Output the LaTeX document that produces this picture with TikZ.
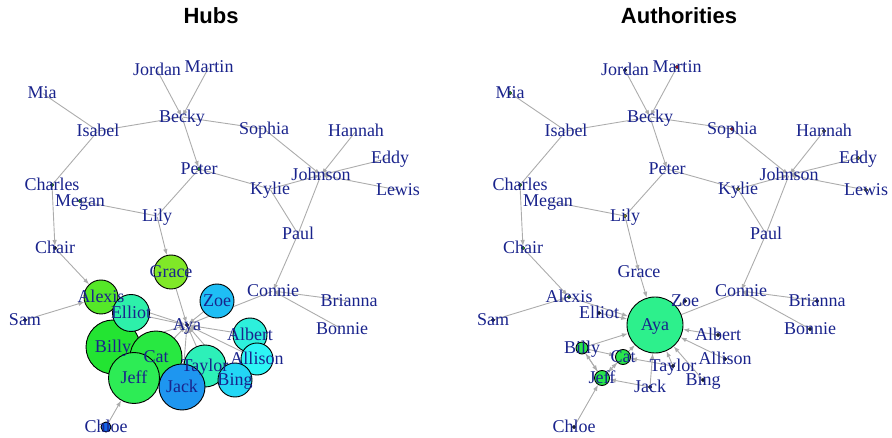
\documentclass[tikz,border=0pt]{standalone}
\usepackage{fontspec}
\setmainfont{Liberation Serif}
\newfontfamily\titlefont{Liberation Sans}
\usetikzlibrary{arrows.meta}
\pgfdeclarelayer{edgelayer}
\pgfdeclarelayer{labellayer}
\pgfsetlayers{edgelayer,main,labellayer}
\definecolor{lblblue}{RGB}{25,35,140}
\definecolor{edgegray}{RGB}{172,172,172}
\definecolor{cGrace}{RGB}{128,232,40}
\definecolor{cAlexis}{RGB}{85,232,40}
\definecolor{cZoe}{RGB}{30,190,245}
\definecolor{cElliot}{RGB}{45,240,170}
\definecolor{cBilly}{RGB}{35,228,50}
\definecolor{cCat}{RGB}{40,232,65}
\definecolor{cJeff}{RGB}{45,236,85}
\definecolor{cJack}{RGB}{30,150,240}
\definecolor{cTaylor}{RGB}{45,240,185}
\definecolor{cAlbert}{RGB}{45,240,220}
\definecolor{cAllison}{RGB}{45,245,245}
\definecolor{cBing}{RGB}{35,215,245}
\definecolor{cChloe}{RGB}{20,100,230}
\definecolor{cAya}{RGB}{45,240,140}
\definecolor{cAuth}{RGB}{40,230,75}
\definecolor{dGreen}{RGB}{30,170,40}
\definecolor{dDark}{RGB}{20,30,60}
\definecolor{dRed}{RGB}{200,20,40}
\definecolor{dOlive}{RGB}{170,170,30}
\tikzset{
  vnone/.style={circle,inner sep=0pt,minimum size=1.5pt,draw=none},
  vdot/.style={circle,inner sep=0pt,minimum size=3.5pt,draw=black!85,line width=0.5pt,fill=#1},
  vbig/.style 2 args={circle,inner sep=0pt,minimum size=#1,draw=black,line width=0.9pt,fill=#2},
  lbl/.style={text=lblblue,font=\fontsize{18}{18}\selectfont,inner sep=0pt,text height=12pt,text depth=3.5pt,yshift=-1.5pt},
  edge/.style={draw=edgegray,line width=0.9pt},
  arr/.style={edge,-{Latex[length=6pt,width=4.5pt]}},
  ttl/.style={font=\titlefont\bfseries\fontsize{22}{22}\selectfont,inner sep=0pt}
}
\newcommand\gv[5]{%
  \node[#4] (#1) at (#2,#3) {};
  \begin{pgfonlayer}{labellayer}\node[lbl] (#1-t) at (#2,#3) {#5};\end{pgfonlayer}}
\newcommand\paneledges[1]{%
  \begin{pgfonlayer}{edgelayer}
  \draw[edge] (#1Mia) -- (#1Isabel);
  \draw[edge] (#1Isabel) -- (#1Becky);
  \draw[edge] (#1Isabel) -- (#1Charles);
  \draw[edge] (#1Becky) -- (#1Sophia);
  \draw[edge] (#1Peter) -- (#1Lily);
  \draw[edge] (#1Peter) -- (#1Kylie);
  \draw[edge] (#1Megan) -- (#1Lily);
  \draw[edge] (#1Kylie) -- (#1Paul);
  \draw[edge] (#1Johnson) -- (#1Paul);
  \draw[edge] (#1Connie) -- (#1Aya);
  \draw[arr] (#1Jordan) -- (#1Becky);
  \draw[arr] (#1Martin) -- (#1Becky);
  \draw[arr] (#1Becky) -- (#1Peter);
  \draw[arr] (#1Sophia) -- (#1Johnson);
  \draw[arr] (#1Hannah) -- (#1Johnson);
  \draw[arr] (#1Eddy) -- (#1Johnson);
  \draw[arr] (#1Lewis) -- (#1Johnson);
  \draw[arr] (#1Kylie) -- (#1Johnson);
  \draw[arr] (#1Charles) -- (#1Chair);
  \draw[arr] (#1Chair) -- (#1Alexis);
  \draw[arr] (#1Sam) -- (#1Alexis);
  \draw[arr] (#1Lily) -- (#1Grace);
  \draw[arr] (#1Paul) -- (#1Connie);
  \draw[arr] (#1Brianna) -- (#1Connie);
  \draw[arr] (#1Bonnie) -- (#1Connie);
  \draw[arr] (#1Grace) -- (#1Aya);
  \draw[arr] (#1Alexis) -- (#1Aya);
  \draw[arr] (#1Elliot) -- (#1Aya);
  \draw[arr] (#1Zoe) -- (#1Aya);
  \draw[arr] (#1Billy) -- (#1Aya);
  \draw[arr] (#1Cat) -- (#1Aya);
  \draw[arr] (#1Taylor) -- (#1Aya);
  \draw[arr] (#1Jack) -- (#1Aya);
  \draw[arr] (#1Bing) -- (#1Aya);
  \draw[arr] (#1Allison) -- (#1Aya);
  \draw[arr] (#1Albert) -- (#1Aya);
  \draw[arr] (#1Billy) -- (#1Jeff);
  \draw[arr] (#1Jeff) -- (#1Billy);
  \draw[arr] (#1Cat) -- (#1Jeff);
  \draw[arr] (#1Jeff) -- (#1Cat);
  \draw[arr] (#1Billy) -- (#1Cat);
  \draw[arr] (#1Taylor) -- (#1Cat);
  \draw[arr] (#1Jack) -- (#1Jeff);
  \draw[arr] (#1Chloe) -- (#1Jeff);
  \end{pgfonlayer}}
\begin{document}
\begin{tikzpicture}[x=1pt,y=-1pt]
\useasboundingbox (0,0) rectangle (892,438);
\node[ttl] (titleH) at (211,16) {Hubs};
\node[ttl] (titleA) at (679,16) {Authorities};
% ---------------- Hubs ----------------
\gv{HMia}{42}{93}{vnone}{Mia}
\gv{HJordan}{157}{70}{vnone}{Jordan}
\gv{HMartin}{209}{67}{vnone}{Martin}
\gv{HBecky}{182}{117}{vnone}{Becky}
\gv{HIsabel}{98}{131}{vnone}{Isabel}
\gv{HSophia}{264}{129}{vnone}{Sophia}
\gv{HHannah}{356}{131}{vnone}{Hannah}
\gv{HEddy}{390}{158}{vnone}{Eddy}
\gv{HJohnson}{321}{175}{vnone}{Johnson}
\gv{HLewis}{398}{190}{vnone}{Lewis}
\gv{HPeter}{199}{169}{vdot=dGreen}{Peter}
\gv{HKylie}{270}{189}{vnone}{Kylie}
\gv{HCharles}{52}{185}{vdot=dGreen}{Charles}
\gv{HMegan}{80}{201}{vdot=dGreen}{Megan}
\gv{HLily}{157}{216}{vnone}{Lily}
\gv{HPaul}{298}{234}{vnone}{Paul}
\gv{HChair}{55}{248}{vdot=dDark}{Chair}
\gv{HConnie}{273}{291}{vnone}{Connie}
\gv{HBrianna}{349}{301}{vnone}{Brianna}
\gv{HBonnie}{342}{329}{vnone}{Bonnie}
\gv{HSam}{25}{320}{vdot=dDark}{Sam}
\gv{HAya}{187}{325}{vdot=dDark}{Aya}
\gv{HGrace}{171}{272}{vbig={34pt}{cGrace}}{Grace}
\gv{HZoe}{217}{301}{vbig={34pt}{cZoe}}{Zoe}
\gv{HAlexis}{101}{297}{vbig={34pt}{cAlexis}}{Alexis}
\gv{HBilly}{113}{347}{vbig={54pt}{cBilly}}{Billy}
\gv{HElliot}{131}{313}{vbig={37pt}{cElliot}}{Elliot}
\gv{HCat}{156}{357}{vbig={52pt}{cCat}}{Cat}
\gv{HJeff}{134}{378}{vbig={51pt}{cJeff}}{Jeff}
\gv{HTaylor}{205}{366}{vbig={42pt}{cTaylor}}{Taylor}
\gv{HJack}{182}{387}{vbig={46pt}{cJack}}{Jack}
\gv{HAlbert}{250}{335}{vbig={34pt}{cAlbert}}{Albert}
\gv{HAllison}{257}{359}{vbig={32pt}{cAllison}}{Allison}
\gv{HBing}{235}{380}{vbig={34pt}{cBing}}{Bing}
\gv{HChloe}{106}{427}{vbig={10pt}{cChloe}}{Chloe}
\paneledges{H}
% ---------------- Authorities ----------------
\begin{scope}[xshift=468pt]
\gv{AMia}{42}{93}{vdot=dGreen}{Mia}
\gv{AJordan}{157}{70}{vdot=dDark}{Jordan}
\gv{AMartin}{209}{67}{vdot=dRed}{Martin}
\gv{ABecky}{182}{117}{vnone}{Becky}
\gv{AIsabel}{98}{131}{vnone}{Isabel}
\gv{ASophia}{264}{129}{vdot=dRed}{Sophia}
\gv{AHannah}{356}{131}{vdot=dOlive}{Hannah}
\gv{AEddy}{390}{158}{vdot=dOlive}{Eddy}
\gv{AJohnson}{321}{175}{vnone}{Johnson}
\gv{ALewis}{398}{190}{vdot=dOlive}{Lewis}
\gv{APeter}{199}{169}{vnone}{Peter}
\gv{AKylie}{270}{189}{vdot=dOlive}{Kylie}
\gv{ACharles}{52}{185}{vdot=dGreen}{Charles}
\gv{AMegan}{80}{201}{vnone}{Megan}
\gv{ALily}{157}{216}{vdot=dOlive}{Lily}
\gv{APaul}{298}{234}{vnone}{Paul}
\gv{AChair}{55}{248}{vdot=dGreen}{Chair}
\gv{AGrace}{171}{272}{vnone}{Grace}
\gv{AConnie}{273}{291}{vnone}{Connie}
\gv{ABrianna}{349}{301}{vdot=dDark}{Brianna}
\gv{ABonnie}{342}{329}{vdot=dDark}{Bonnie}
\gv{AAlexis}{101}{297}{vdot=dGreen}{Alexis}
\gv{ASam}{25}{320}{vdot=dDark}{Sam}
\gv{AZoe}{217}{301}{vdot=dDark}{Zoe}
\gv{AElliot}{131}{313}{vdot=dDark}{Elliot}
\gv{AAlbert}{250}{335}{vdot=dDark}{Albert}
\gv{AAllison}{257}{359}{vdot=dDark}{Allison}
\gv{ATaylor}{205}{366}{vdot=dDark}{Taylor}
\gv{ABing}{235}{380}{vdot=dDark}{Bing}
\gv{AJack}{182}{387}{vdot=dDark}{Jack}
\gv{AChloe}{106}{427}{vdot=dDark}{Chloe}
\gv{AAya}{187}{325}{vbig={56pt}{cAya}}{Aya}
\gv{ABilly}{114}{348}{vbig={12pt}{cAuth}}{Billy}
\gv{ACat}{155}{357}{vbig={15pt}{cAuth}}{Cat}
\gv{AJeff}{134}{378}{vbig={15pt}{cAuth}}{Jeff}
\paneledges{A}
\end{scope}
\end{tikzpicture}
\end{document}
